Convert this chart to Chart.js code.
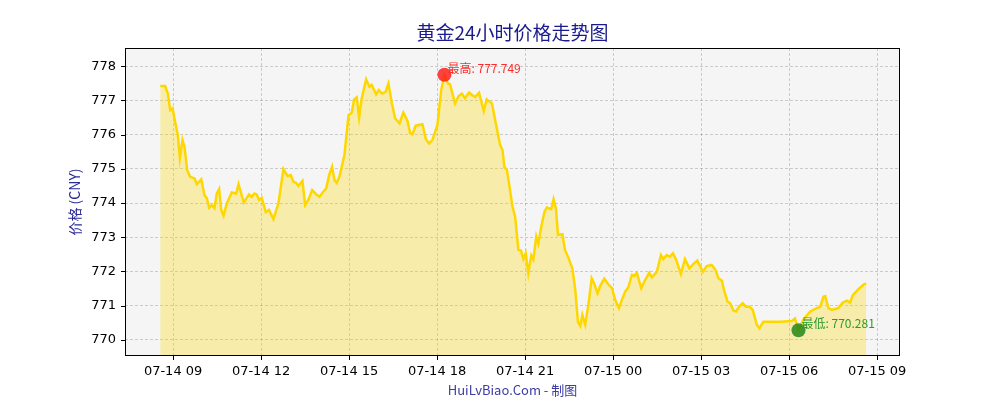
<!DOCTYPE html>
<html>
<head>
<meta charset="utf-8">
<script src="https://cdn.jsdelivr.net/npm/chart.js@4.4.1/dist/chart.umd.min.js"></script>
<style>
  html, body { margin: 0; padding: 0; background: #fff; }
  #wrap { width: 1000px; height: 400px; }
</style>
</head>
<body>
<div id="wrap"><canvas id="chart" width="1000" height="400"></canvas></div>
<script>
// hours since 07-14 00:00
const hours = [
  8.56, 8.73, 8.82, 8.90, 8.98, 9.07, 9.16, 9.23, 9.32, 9.39,
  9.48, 9.58, 9.73, 9.81, 9.96, 10.07, 10.15, 10.23, 10.32, 10.41,
  10.49, 10.57, 10.64, 10.72, 10.83, 11.00, 11.15, 11.23, 11.32, 11.41,
  11.51, 11.59, 11.68, 11.77, 11.85, 11.93, 12.02, 12.16, 12.27, 12.42,
  12.59, 12.76, 12.90, 13.01, 13.10, 13.19, 13.27, 13.41, 13.50, 13.61,
  13.74, 13.88, 13.99, 14.12, 14.22, 14.32, 14.42, 14.50, 14.58, 14.67,
  14.84, 14.98, 15.09, 15.17, 15.26, 15.34, 15.43, 15.58, 15.69, 15.77,
  15.92, 16.01, 16.12, 16.24, 16.34, 16.46, 16.57, 16.72, 16.85, 16.99,
  17.08, 17.16, 17.27, 17.50, 17.62, 17.73, 17.84, 18.01, 18.14, 18.25,
  18.37, 18.44, 18.61, 18.73, 18.84, 18.95, 19.09, 19.20, 19.30, 19.43,
  19.59, 19.69, 19.87, 20.00, 20.15, 20.23, 20.29, 20.38, 20.45, 20.57,
  20.66, 20.77, 20.86, 20.94, 21.02, 21.11, 21.21, 21.28, 21.38, 21.45,
  21.55, 21.66, 21.74, 21.89, 21.97, 22.05, 22.12, 22.27, 22.36, 22.48,
  22.61, 22.71, 22.80, 22.88, 22.95, 23.05, 23.18, 23.27, 23.35, 23.47,
  23.56, 23.70, 23.82, 23.96, 24.07, 24.20, 24.30, 24.41, 24.52, 24.64,
  24.72, 24.81, 24.96, 25.06, 25.23, 25.32, 25.49, 25.63, 25.71, 25.83,
  25.94, 26.04, 26.15, 26.31, 26.45, 26.60, 26.74, 26.87, 27.06, 27.19,
  27.36, 27.48, 27.59, 27.71, 27.78, 27.90, 27.99, 28.10, 28.19, 28.31,
  28.42, 28.53, 28.65, 28.76, 28.90, 28.99, 29.12, 29.35, 29.69, 30.09,
  30.20, 30.32, 30.49, 30.72, 30.94, 31.06, 31.17, 31.23, 31.34, 31.46,
  31.68, 31.83, 31.97, 32.08, 32.17, 32.36, 32.56, 32.63
];

const prices = [
  777.42, 777.42, 777.20, 776.72, 776.77, 776.37, 775.99, 775.31, 775.84, 775.64,
  774.96, 774.77, 774.72, 774.55, 774.69, 774.23, 774.14, 773.86, 773.94, 773.85,
  774.28, 774.41, 773.80, 773.63, 773.99, 774.31, 774.28, 774.55, 774.28, 774.02,
  774.15, 774.25, 774.18, 774.28, 774.25, 774.09, 774.15, 773.73, 773.80, 773.53,
  773.99, 774.99, 774.79, 774.82, 774.62, 774.59, 774.50, 774.65, 773.94, 774.09,
  774.38, 774.25, 774.18, 774.33, 774.43, 774.82, 775.06, 774.67, 774.59, 774.77,
  775.40, 776.57, 776.64, 777.03, 777.09, 776.50, 777.06, 777.61, 777.40, 777.45,
  777.18, 777.30, 777.20, 777.24, 777.49, 776.91, 776.47, 776.33, 776.64, 776.40,
  776.04, 776.01, 776.26, 776.30, 775.86, 775.74, 775.84, 776.28, 777.30, 777.749,
  777.49, 777.47, 776.91, 777.12, 777.20, 777.06, 777.23, 777.15, 777.10, 777.22,
  776.69, 777.03, 776.91, 776.33, 775.69, 775.55, 775.06, 774.96, 774.58, 773.89,
  773.60, 772.63, 772.61, 772.36, 772.53, 771.95, 772.47, 772.35, 773.02, 772.82,
  773.31, 773.75, 773.87, 773.82, 774.11, 773.85, 773.07, 773.09, 772.63, 772.39,
  772.09, 771.46, 770.53, 770.41, 770.73, 770.44, 771.17, 771.80, 771.66, 771.36,
  771.58, 771.79, 771.64, 771.51, 771.17, 770.93, 771.17, 771.41, 771.54, 771.90,
  771.87, 771.96, 771.51, 771.70, 771.96, 771.83, 771.99, 772.48, 772.36, 772.48,
  772.43, 772.53, 772.34, 771.93, 772.36, 772.09, 772.22, 772.32, 771.99, 772.16,
  772.19, 772.06, 771.80, 771.73, 771.46, 771.12, 771.07, 770.86, 770.83, 770.99,
  771.07, 770.97, 770.97, 770.88, 770.44, 770.34, 770.53, 770.53, 770.53, 770.55,
  770.63, 770.281, 770.60, 770.83, 770.93, 770.97, 771.26, 771.28, 770.93, 770.88,
  770.93, 771.09, 771.15, 771.09, 771.31, 771.48, 771.63, 771.64
];

const xTicks = [9, 12, 15, 18, 21, 24, 27, 30, 33];
const xTickLabels = ['07-14 09', '07-14 12', '07-14 15', '07-14 18', '07-14 21',
                     '07-15 00', '07-15 03', '07-15 06', '07-15 09'];
const yTicks = [770, 771, 772, 773, 774, 775, 776, 777, 778];

const titleText = '黄金24小时价格走势图';
const yTitle = '价格 (CNY)';
const xTitle = 'HuiLvBiao.Com - 制图';

const CJK = '"Noto Sans CJK SC", "DejaVu Sans", sans-serif';

// max / min points
let iMax = 0, iMin = 0;
prices.forEach((p, i) => {
  if (p > prices[iMax]) iMax = i;
  if (p < prices[iMin]) iMin = i;
});

const series = hours.map((h, i) => ({ x: h, y: prices[i] }));

const decor = {
  id: 'decor',
  beforeDraw(chart) {
    const { ctx, chartArea: a } = chart;
    ctx.save();
    ctx.fillStyle = '#fff';
    ctx.fillRect(0, 0, chart.width, chart.height);
    ctx.fillStyle = '#f5f5f5';
    ctx.fillRect(a.left, a.top, a.right - a.left, a.bottom - a.top);
    ctx.restore();
  },
  afterDraw(chart) {
    const { ctx, chartArea: a } = chart;
    const xs = chart.scales.x, ys = chart.scales.y;
    ctx.save();

    // frame
    ctx.strokeStyle = '#000';
    ctx.lineWidth = 1;
    ctx.strokeRect(Math.round(a.left) + 0.5, Math.round(a.top) + 0.5,
                   Math.round(a.right - a.left) - 1, Math.round(a.bottom - a.top) - 1);

    // tick marks
    ctx.beginPath();
    xTicks.forEach(v => {
      const px = Math.round(xs.getPixelForValue(v)) + 0.5;
      ctx.moveTo(px, a.bottom);
      ctx.lineTo(px, a.bottom + 4);
    });
    yTicks.forEach(v => {
      const py = Math.round(ys.getPixelForValue(v)) + 0.5;
      ctx.moveTo(a.left, py);
      ctx.lineTo(a.left - 4, py);
    });
    ctx.stroke();

    // titles
    const cx = (a.left + a.right) / 2;
    ctx.fillStyle = '#1a1a8c';
    ctx.font = '19px ' + CJK;
    ctx.textAlign = 'center';
    ctx.textBaseline = 'middle';
    ctx.fillText(titleText, cx, 33);

    ctx.fillStyle = '#3b3ba6';
    ctx.font = '13px ' + CJK;
    ctx.fillText(xTitle, cx, 390);

    ctx.save();
    ctx.translate(75, (a.top + a.bottom) / 2);
    ctx.rotate(-Math.PI / 2);
    ctx.fillStyle = '#2a2a96';
    ctx.font = '14px ' + CJK;
    ctx.fillText(yTitle, 0, 0);
    ctx.restore();

    // high / low notes
    ctx.textAlign = 'left';
    ctx.font = '12px ' + CJK;
    let px = xs.getPixelForValue(hours[iMax]);
    let py = ys.getPixelForValue(prices[iMax]);
    ctx.fillStyle = '#ff2a2a';
    ctx.fillText('最高: ' + prices[iMax].toFixed(3), px + 3, py - 6);

    px = xs.getPixelForValue(hours[iMin]);
    py = ys.getPixelForValue(prices[iMin]);
    ctx.fillStyle = '#2e9a2e';
    ctx.fillText('最低: ' + prices[iMin].toFixed(3), px + 3, py - 7);

    ctx.restore();
  }
};

new Chart(document.getElementById('chart'), {
  type: 'line',
  data: {
    datasets: [
      {
        type: 'scatter',
        data: [{ x: hours[iMax], y: prices[iMax] }],
        pointRadius: 7,
        pointBackgroundColor: 'rgba(255, 20, 20, 0.8)',
        pointBorderWidth: 0,
        order: 0
      },
      {
        type: 'scatter',
        data: [{ x: hours[iMin], y: prices[iMin] }],
        pointRadius: 7,
        pointBackgroundColor: 'rgba(20, 130, 20, 0.8)',
        pointBorderWidth: 0,
        order: 0
      },
      {
        data: series,
        borderColor: '#ffd700',
        backgroundColor: 'rgba(255, 215, 0, 0.3)',
        borderWidth: 2.5,
        pointRadius: 0,
        tension: 0,
        fill: 'start',
        order: 1
      }
    ]
  },
  options: {
    responsive: false,
    animation: false,
    events: [],
    layout: { padding: { top: 48, left: 0, right: 100, bottom: 0 } },
    plugins: {
      legend: { display: false },
      title: { display: false },
      tooltip: { enabled: false }
    },
    scales: {
      x: {
        type: 'linear',
        min: 7.36,
        max: 33.78,
        afterBuildTicks: s => { s.ticks = xTicks.map(v => ({ value: v })); },
        afterFit: s => { s.height = 44; },
        border: { display: false, dash: [3, 2] },
        grid: { color: 'rgba(0,0,0,0.22)', lineWidth: 0.8, drawTicks: false },
        ticks: {
          padding: 8,
          maxRotation: 0,
          autoSkip: false,
          color: '#000',
          font: { family: '"DejaVu Sans"', size: 13 },
          callback: v => xTickLabels[xTicks.indexOf(v)]
        }
      },
      y: {
        min: 769.53,
        max: 778.53,
        afterBuildTicks: s => { s.ticks = yTicks.map(v => ({ value: v })); },
        afterFit: s => { s.width = 125; },
        border: { display: false, dash: [3, 2] },
        grid: { color: 'rgba(0,0,0,0.22)', lineWidth: 0.8, drawTicks: false },
        ticks: {
          padding: 9,
          color: '#000',
          font: { family: '"DejaVu Sans"', size: 13 },
          callback: v => String(v)
        }
      }
    }
  },
  plugins: [decor]
});
</script>
</body>
</html>
